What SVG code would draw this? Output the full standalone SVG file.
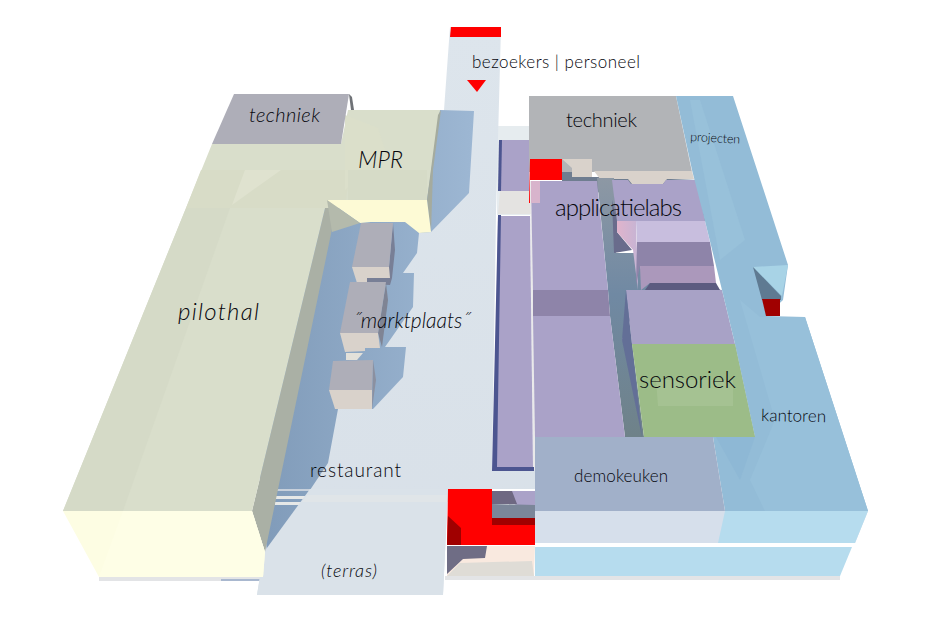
<svg xmlns="http://www.w3.org/2000/svg" width="945" height="630" viewBox="0 0 945 630">
<style>
text{font-family:"Lato","Open Sans","Liberation Sans",sans-serif;font-weight:300;fill:#05060c}
.i{font-style:italic}
.lav{fill:#aaa2c8}.lavd{fill:#8e84a9}.blue{fill:#93bcd7}.lblue{fill:#b6dcee}
.roof{fill:#d9decb}.yel{fill:#fdfde3}.side{fill:#aab0a5}.red{fill:#f00}.dred{fill:#a00000}.cream{fill:#d9d2cb}.gray{fill:#b2b4b7}.bgray{fill:#aeaeb8}
.navy{fill:#4c5590}
</style>
<defs>
<linearGradient id="sh" x1="0" y1="0" x2="1" y2="0"><stop offset="0" stop-color="#7f9ab8"/><stop offset="1" stop-color="#9db7d3"/></linearGradient>
<linearGradient id="fl" x1="0" y1="0" x2="0" y2="1"><stop offset="0" stop-color="#dde5ec"/><stop offset="1" stop-color="#d8e0e8"/></linearGradient>
<linearGradient id="ch" x1="0" y1="0" x2="0" y2="1"><stop offset="0" stop-color="#8d98a4"/><stop offset="0.45" stop-color="#7089a3"/><stop offset="1" stop-color="#6f8289"/></linearGradient>
<linearGradient id="pk" x1="0" y1="0" x2="1" y2="0"><stop offset="0" stop-color="#e0b4cc"/><stop offset="1" stop-color="#c6b4d4"/></linearGradient>
</defs>
<rect width="945" height="630" fill="#fff"/>

<g id="base">
<polygon fill="#e3e4e6" points="99,577 262,577 262,581 99,581"/>
<polygon fill="#a9b8cf" points="221,579 262,579 262,581 221,581"/>
<polygon fill="#e3e4e6" points="445,576 840,576 840,580 445,580"/>
<polygon fill="#e6ecef" points="497,126 530,126 530,215 497,215"/>
</g>

<g id="floor">
<polygon fill="url(#fl)" points="450,27 501,27 496,214 492,470 535,470 535,489 448,489 443,595 257,595 264,552 330,200 430,232 437,170 444,110"/>
<polygon fill="#e4e3e1" points="500,191 531,191 531,214 498,214"/>
<polygon fill="#e9e9ea" points="530,181 534,181 536,470 533,470"/>
</g>

<g id="entrance">
<polygon class="red" points="451,27 501,27 501,37 450,37"/>
<polygon class="red" points="467,80 486,80 477,92"/>
</g>

<g id="shadows">
<polygon fill="url(#sh)" points="440,110 474,111 469,193 431,232 419,233 417,253 403,273 414,273 413,307 385,347 406,347 403,377 373,409 338,409 328,463 310,490 267,552 252,400 327,200"/>
<polygon fill="#c7d0db" points="275,489 310,489 310,491 275,491"/>
<polygon fill="#e6e8e7" points="275,496 307,496 306,499 275,499"/>
<polygon fill="#e6e8e7" points="275,502 302,502 301,505 275,505"/>
</g>

<g id="terras">
<polygon fill="#dae2e9" points="310,489 448,489 443,595 257,595 264,552"/>
<polygon fill="#e0e5e8" points="307,495 448,495 448,502 302,502"/>
<text class="i" x="321" y="577" font-size="18" textLength="56">(terras)</text>
</g>

<g id="pilothal">
<polygon class="side" points="327,200 252,511 265,552 337,205"/>
<polygon class="yel" points="63,511 252,511 265,552 263,577 99,577"/>
<polygon fill="#fefee6" points="123,511 252,511 265,552 263,577 99,577"/>
<polygon class="roof" points="212,144 341,144 348,110 440,110 427,200 327,200 252,511 63,511"/>
<polygon fill="#d5dac7" points="186,208 230,208 123,511 63,511"/>
<polygon fill="#d8dcc7" points="201,170 350,170 345,208 186,208"/>
<polygon fill="#dfe2cf" points="245,170 281,170 232,205"/>
<polygon fill="#dbdfca" points="345,115 378,128 385,150 345,190"/>
<polygon fill="#d6dbc7" points="348,170 427,170 427,200 348,200"/>
<polygon fill="#a5ab9e" points="438,115 441,110 433,170 431,232 427,200"/>
<polygon fill="#fdfad5" points="327,200 427,200 431,232 419,233 405,222 371,222 360,223"/>
<polygon fill="#b4baac" points="327,200 360,223 332,232"/>
<polygon class="bgray" points="234,94 349,94 341,144 212,144"/>
<polygon fill="#6f7277" points="349,94 352,97 354,110 351,110"/>
<text class="i" x="249" y="122" font-size="20" textLength="71">techniek</text>
<text class="i" x="358" y="168" font-size="23" textLength="45">MPR</text>
<text class="i" x="178" y="320" font-size="24" textLength="81">pilothal</text>
</g>

<g id="blokken">
<polygon fill="#787f96" points="393,223 395,250 392,278 390,285 367,284 367,278 389,267"/>
<polygon class="bgray" points="361,223 393,223 389,267 352,267"/>
<polygon class="cream" points="352,267 389,267 390,278 367,278 367,283 357,283"/>
<polygon fill="#7f8494" points="386,283 388,300 382,347 378,333"/>
<polygon class="bgray" points="350,282 386,282 378,333 340,333"/>
<polygon class="cream" points="340,333 378,333 380,348 365,348 365,351 345,352"/>
<polygon fill="#e3e1da" points="346,353 363,353 357,360 346,360"/>
<polygon fill="#8b90a0" points="373,360 376,380 372,409"/>
<polygon class="bgray" points="333,361 373,360 372,390 329,390"/>
<polygon class="cream" points="329,390 372,390 372,409 335,409"/>
<text class="i" x="353" y="328" font-size="21" textLength="117">˝marktplaats˝</text>
</g>

<g id="strook">
<polygon class="lav" points="501,140 529,140 529,191 500,191"/>
<polygon class="navy" points="499,140 502,140 501,191 498,191"/>
<polygon class="lav" points="498,216 530,216 533,468 494,468"/>
<polygon class="navy" points="498,215 501,215 497,467 534,467 534,471 492,471"/>
</g>

<g id="techniek">
<polygon fill="#6f7d90" points="562,159 572,168 572,177 612,177 700,180 705,221 612,221 612,195 562,185"/>
<polygon class="gray" points="529,96 676,96 692,172 529,172"/>
<polygon class="cream" points="562,159 592,159 592,177 572,177 572,168"/>
<polygon class="cream" points="594,171 692,171 694,179 667,179 663,184 632,184 628,179 600,179"/>
<polygon class="red" points="530,159 562,159 562,180 530,180 530,203 529,203"/>
<text x="566" y="127" font-size="20" textLength="71">techniek</text>
</g>

<g id="labs">
<polygon fill="url(#ch)" points="597,178 614,178 616,253 635,253 645,280 722,290 640,295 622,340 632,344 644,437 625,437 610,316 608,290"/>
<polygon class="lav" points="531,181 597,181 608,290 533,290"/>
<polygon fill="#d8b4cc" points="531,181 540,181 540,203 531,203"/>
<polygon class="lavd" points="533,290 608,290 610,316 533,316"/>
<polygon class="lav" points="533,316 610,316 625,437 535,437"/>
<polygon fill="#696c8c" points="612,200 617,221 617,232 632,250 614,253"/>
<polygon class="lav" points="612,180 628,180 631,184 663,184 666,180 697,180 705,221 617,221"/>
<polygon fill="url(#pk)" points="617,221 636,221 638,290 633,250 617,232"/>
<polygon fill="#c8bede" points="636,221 705,221 710,242 637,242"/>
<polygon class="lavd" points="637,242 710,242 714,266 640,266 636,285"/>
<polygon fill="#ab98bb" points="640,266 714,266 716,283 650,283 641,290"/>
<polygon fill="#5c5b80" points="645,290 650,283 716,283 720,290"/>
<polygon fill="#a8a2c6" points="626,290 722,290 735,344 632,344"/>
<polygon fill="#636f97" points="626,290 632,344 642,437 622,340"/>
<text x="555" y="216" font-size="24" textLength="127">applicatielabs</text>
</g>

<g id="blauw">
<polygon class="blue" points="676,96 733,96 788,265 783,300 766,316 805,317 868,511 725,511 713,437 755,437 735,344 722,290 705,221 692,170"/>
<polygon fill="#97c0da" points="740,300 760,317 805,317 868,511 765,511 750,480 775,420"/>
<polygon fill="#8eb8d5" points="735,344 755,437 740,480 716,437"/>
<polygon fill="#98c1da" points="690,100 700,100 745,240 720,260"/>
<polygon fill="#a8d3e6" points="753,267 788,265 782,296"/>
<polygon fill="#5f7a92" points="753,267 781,296 781,300 762,300"/>
<polygon class="dred" points="762,299 780,299 780,316 766,316"/>
<polygon fill="#d6dfeb" points="535,511 868,511 855,543 535,543"/>
<polygon class="lblue" points="725,511 868,511 855,543 718,543"/>
<polygon class="lblue" points="535,547 852,547 840,576 535,576"/>
<polygon fill="#a1b0c9" points="535,437 713,437 725,511 535,511"/>
<text x="690" y="141" font-size="12.500" textLength="50" transform="rotate(3 690 141)">projecten</text>
<text x="761" y="421" font-size="17" textLength="65" transform="rotate(1 761 421)">kantoren</text>
<text x="574" y="482" font-size="17" textLength="94">demokeuken</text>
</g>

<g id="sensoriek">
<polygon fill="#9cbc88" points="632,344 735,344 755,437 644,437"/>
<polygon fill="#a5c292" points="656,380 733,380 733,406 658,406"/>
<text x="639" y="388" font-size="24" textLength="97">sensoriek</text>
</g>

<g id="onderzijde">
<polygon class="lav" points="492,491 535,491 535,505 516,505"/>
<polygon fill="#6e6882" points="492,491 512,491 517,504 492,504"/>
<polygon fill="#7b8699" points="492,504 535,505 535,518 492,518"/>
<polygon class="dred" points="492,518 535,518 535,525 492,525"/>
<polygon class="red" points="448,489 492,489 492,525 535,525 535,545 447,545"/>
<polygon class="dred" points="448,516 461,528 461,545 447,545"/>
<polygon fill="#f9e9df" points="447,546 535,546 534,576 447,576"/>
<polygon fill="#6f6d85" points="447,546 487,546 485,558 463,559 447,574"/>
<polygon fill="#dfdcd6" points="447,576 460,563 532,561 534,576"/>
</g>

<text x="472" y="68" font-size="17" textLength="168">bezoekers | personeel</text>
<text x="310" y="477" font-size="19" textLength="91">restaurant</text>
</svg>
